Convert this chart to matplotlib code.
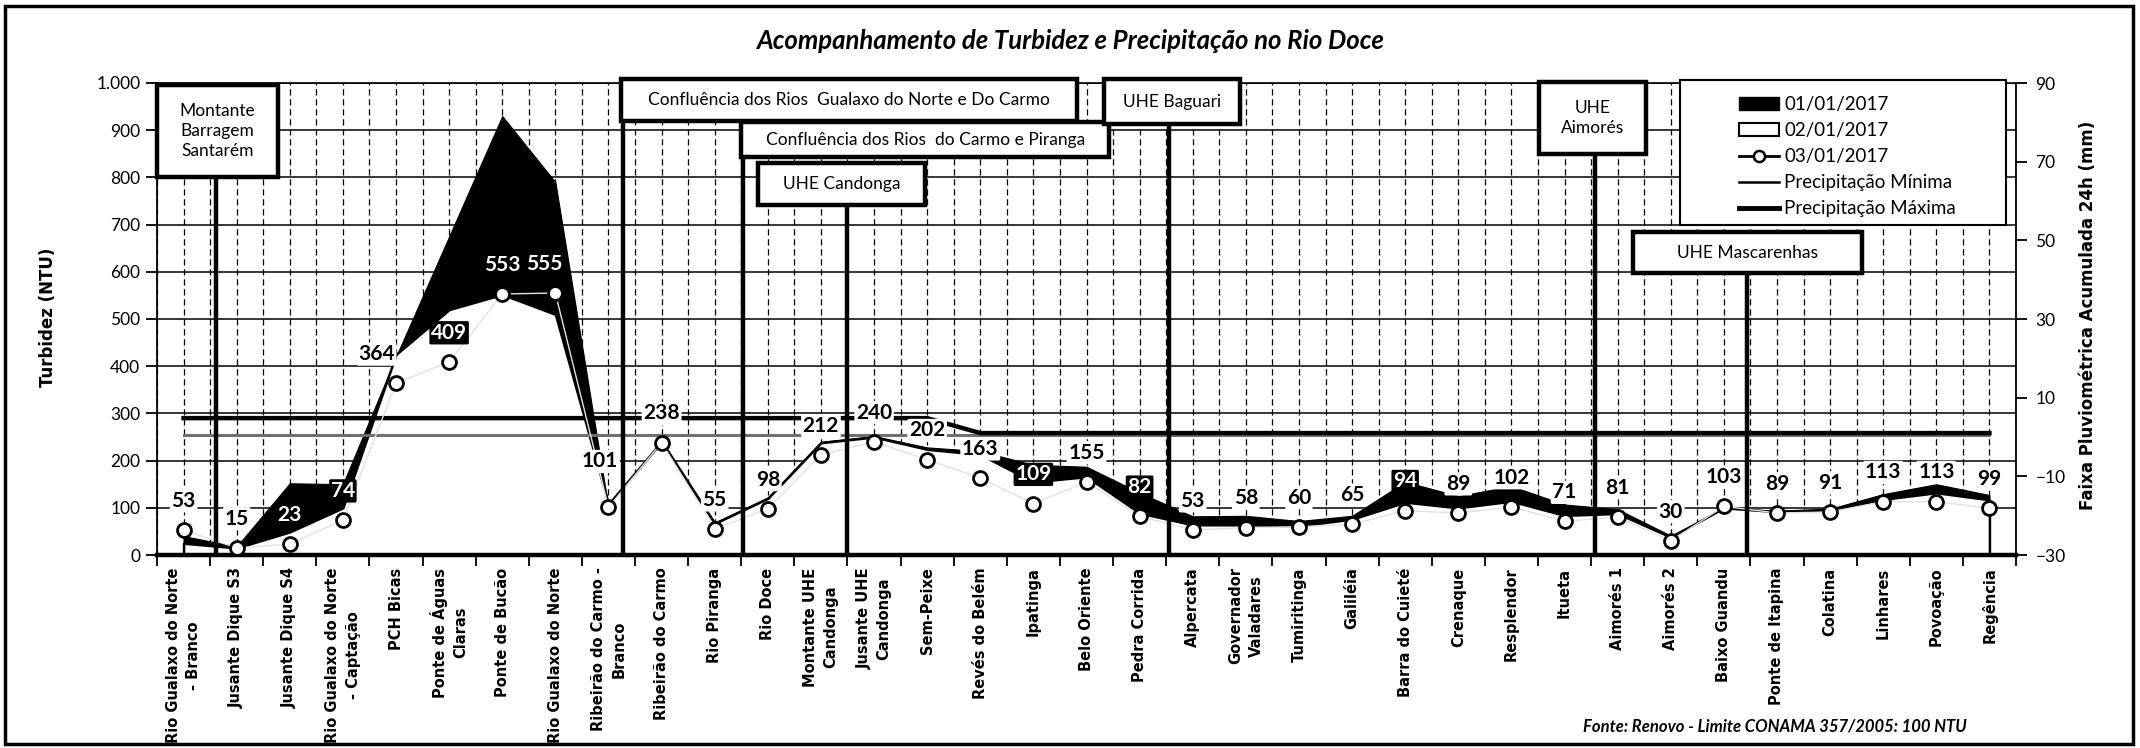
import matplotlib
matplotlib.use('Agg')
import matplotlib.pyplot as plt
import numpy as np
from matplotlib.patches import Rectangle, Patch
from matplotlib.lines import Line2D
from matplotlib.ticker import FuncFormatter, FixedLocator

plt.rcParams['font.family'] = ['Lato', 'DejaVu Sans']

# pontos de monitoramento ao longo do rio
pontos = [
    'Rio Gualaxo do Norte\n- Branco', 'Jusante Dique S3', 'Jusante Dique S4',
    'Rio Gualaxo do Norte\n- Captação', 'PCH Bicas', 'Ponte de Águas\nClaras',
    'Ponte de Bucão', 'Rio Gualaxo do Norte', 'Ribeirão do Carmo -\nBranco',
    'Ribeirão do Carmo', 'Rio Piranga', 'Rio Doce', 'Montante UHE\nCandonga',
    'Jusante UHE\nCandonga', 'Sem-Peixe', 'Revés do Belém', 'Ipatinga',
    'Belo Oriente', 'Pedra Corrida', 'Alpercata', 'Governador\nValadares',
    'Tumiritinga', 'Galiléia', 'Barra do Cuieté', 'Crenaque', 'Resplendor',
    'Itueta', 'Aimorés 1', 'Aimorés 2', 'Baixo Guandu', 'Ponte de Itapina',
    'Colatina', 'Linhares', 'Povoação', 'Regência',
]

# turbidez (NTU)
turb_0101 = [40, 18, 152, 150, 420, 675, 930, 790, 100, 243, 69, 122, 240, 252,
             228, 220, 191, 187, 132, 82, 83, 72, 83, 155, 125, 146, 107, 97,
             41, 98, 94, 98, 129, 150, 127]
turb_0201 = [25, 15, 49, 100, 425, 520, 552, 510, 108, 240, 67, 120, 238, 250,
             224, 213, 155, 166, 89, 64, 64, 62, 76, 112, 100, 114, 84, 88,
             38, 100, 92, 96, 118, 132, 117]
turb_0301 = [53, 15, 23, 74, 364, 409, 553, 555, 101, 238, 55, 98, 212, 240,
             202, 163, 109, 155, 82, 53, 58, 60, 65, 94, 89, 102, 71, 81,
             30, 103, 89, 91, 113, 113, 99]

# faixa pluviométrica acumulada 24h (mm)
precip_min = [0.6, 0.6, 0.6, 0.6, 0.6, 0.6, 0.6, 0.6, 0.6, 0.6, 0.6, 0.6, 0.6,
              0.6, 0.6, 0.6, 0.6, 0.6, 0.6, 0.6, 0.6, 0.6, 0.6, 0.6, 0.6, 0.6,
              0.6, 0.6, 0.6, 0.6, 0.6, 0.6, 0.6, 0.6, 0.6]
precip_max = [4.8, 4.8, 4.8, 4.8, 4.8, 4.8, 4.8, 4.8, 4.8, 4.8, 4.8, 4.8, 4.8,
              4.8, 4.8, 1.0, 1.0, 1.0, 1.0, 1.0, 1.0, 1.0, 1.0, 1.0, 1.0, 1.0,
              1.0, 1.0, 1.0, 1.0, 1.0, 1.0, 1.0, 1.0, 1.0]

# rótulos que caem sobre a área preta
rotulos_escuros = {2, 3, 5, 6, 7, 16, 18, 23}
desloc_rotulo = {4: (-14, 0), 7: (-8, 0), 8: (-6, 12)}

# caixas de referência: texto, x0, x1, y0, y1, posição da linha
marcos = [
    ('Montante\nBarragem\nSantarém', -0.5, 1.78, 801, 996, 0.61),
    ('Confluência dos Rios  Gualaxo do Norte e Do Carmo', 8.24, 16.82, 919, 1008, 8.27),
    ('Confluência dos Rios  do Carmo e Piranga', 10.50, 17.43, 843, 917, 10.53),
    ('UHE Candonga', 10.82, 13.96, 742, 831, 12.49),
    ('UHE Baguari', 17.33, 19.89, 913, 1008, 18.55),
    ('UHE\nAimorés', 25.52, 27.54, 850, 1002, 26.58),
    ('UHE Mascarenhas', 27.29, 31.60, 597, 684, 29.44),
]

W, H = 2140, 748
fig = plt.figure(figsize=(W / 100, H / 100), dpi=100)
ax = fig.add_axes([157 / W, 1 - 555 / H, (2016 - 157) / W, (555 - 83) / H])
ax2 = ax.twinx()
ax.set_zorder(2)
ax2.set_zorder(1)
ax.patch.set_visible(False)

x = np.arange(len(pontos))

# áreas dos dias 01/01 e 02/01
ax.fill_between(x, 0, turb_0101, facecolor='black', edgecolor='black', lw=0.8, zorder=1)
ax.fill_between(x, 0, turb_0201, facecolor='white', edgecolor='black', lw=1.8, zorder=1.1)

# faixas de precipitação no eixo secundário
ax2.set_ylim(-30, 90)
ax.plot(x, precip_min, transform=ax2.transData, color='#707070', lw=2.2, zorder=2)
ax.plot(x, precip_max, transform=ax2.transData, color='black', lw=3.2, zorder=2.1)

# dia 03/01
ax.plot(x, turb_0301, color='#e2e2e2', lw=1.0, zorder=3)
ax.plot(x, turb_0301, ls='none', marker='o', ms=10, mfc='white', mec='black', mew=2, zorder=4)
for i, v in enumerate(turb_0301):
    dx, dy = desloc_rotulo.get(i, (0, 0))
    escuro = i in rotulos_escuros
    ax.annotate(str(v), (i, v), xytext=(dx, 21 + dy), textcoords='offset points',
                ha='center', va='center', fontsize=15, fontweight='bold',
                color='white' if escuro else 'black', zorder=5,
                bbox=dict(boxstyle='round,pad=0.08', fc='black' if escuro else 'white', ec='none'))

# caixas e linhas verticais
for texto, x0, x1, y0, y1, xl in marcos:
    ax.plot([xl, xl], [0, y0], color='black', lw=3.2, zorder=6, clip_on=False,
            solid_capstyle='butt')
    ax.add_patch(Rectangle((x0, y0), x1 - x0, y1 - y0, fc='white', ec='black',
                           lw=3.2, zorder=7, clip_on=False))
    ax.text((x0 + x1) / 2, (y0 + y1) / 2, texto, ha='center', va='center',
            fontsize=12.5, linespacing=1.3, zorder=8)

# eixos
ax.set_xlim(-0.5, len(pontos) - 0.5)
ax.set_ylim(0, 1000)
ax.set_yticks(range(0, 1001, 100))
ax.yaxis.set_major_formatter(FuncFormatter(lambda v, p: f'{int(v):,}'.replace(',', '.')))
ax.set_xticks(x)
ax.set_xticklabels(pontos, rotation=90, fontsize=10.5, fontweight='bold',
                   family='DejaVu Sans', va='top', ha='center', multialignment='center',
                   linespacing=1.45)
ax.xaxis.set_minor_locator(FixedLocator(np.arange(-0.5, len(pontos), 1.0)))
ax.tick_params(axis='x', which='major', length=0, pad=9)
ax.tick_params(axis='x', which='minor', length=8, width=1.3, direction='out')
ax.tick_params(axis='y', length=8, width=1.3, labelsize=12.5, pad=4)
ax.grid(axis='x', which='both', color='black', lw=0.9, ls=(0, (5, 3)))
ax.grid(axis='y', which='major', color='black', lw=1.1)
ax.set_axisbelow(True)

ax2.set_yticks([-30, -10, 10, 30, 50, 70, 90])
ax2.tick_params(axis='y', length=8, width=1.3, labelsize=12.5, pad=6)
for s in ['left', 'top', 'bottom']:
    ax2.spines[s].set_visible(False)
ax2.spines['right'].set_linewidth(1.3)
ax.spines['right'].set_visible(False)
ax.spines['left'].set_linewidth(1.3)
ax.spines['top'].set_linewidth(1.2)
ax.spines['bottom'].set_linewidth(3.2)

fig.text(48 / W, 1 - 317 / H, 'Turbidez (NTU)', rotation=90, ha='center', va='center',
         fontsize=12, fontweight='bold', family='DejaVu Sans')
fig.text(2088 / W, 1 - 315 / H, 'Faixa Pluviométrica Acumulada 24h (mm)', rotation=90,
         ha='center', va='center', fontsize=12, fontweight='bold', family='DejaVu Sans')
fig.text(0.5, 1 - 41 / H, 'Acompanhamento de Turbidez e Precipitação no Rio Doce',
         ha='center', va='center', fontsize=18.5, fontweight='bold', style='italic')
fig.text(1775 / W, 1 - 727 / H, 'Fonte: Renovo - Limite CONAMA 357/2005: 100 NTU',
         ha='center', va='center', fontsize=12, fontweight='bold', style='italic')

# legenda com fundo branco por cima da grade
fig.patches.append(Rectangle((1680 / W, 1 - 225 / H), 326 / W, 145 / H, fc='white',
                             ec='black', lw=1.5, transform=fig.transFigure, figure=fig,
                             zorder=3))
itens = [
    Patch(fc='black', ec='black'),
    Patch(fc='white', ec='black', lw=1.5),
    Line2D([], [], color='black', lw=2, marker='o', ms=8, mfc='white', mec='black', mew=1.8),
    Line2D([], [], color='black', lw=1.8),
    Line2D([], [], color='black', lw=3.5),
]
nomes = ['01/01/2017', '02/01/2017', '03/01/2017', 'Precipitação Mínima', 'Precipitação Máxima']
leg = fig.legend(itens, nomes, loc='upper left', bbox_to_anchor=(1726 / W, 1 - 83 / H),
                 frameon=False, fontsize=13.5, handlelength=2.1, handletextpad=0.3,
                 labelspacing=0.48, borderpad=0.2)
leg.set_zorder(5)

# moldura
fig.patches.append(Rectangle((5 / W, 4 / H), 2128 / W, 738 / H, fill=False, ec='black',
                             lw=2.5, transform=fig.transFigure, figure=fig, zorder=6))

fig.savefig('out.png', dpi=100)
